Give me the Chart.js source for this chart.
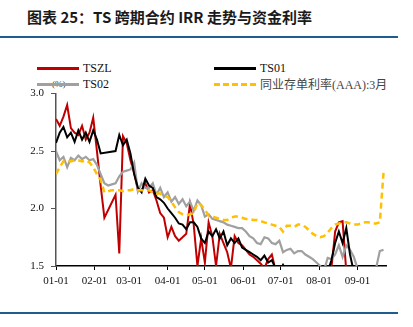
<!DOCTYPE html>
<html>
<head>
<meta charset="utf-8">
<script src="https://cdn.jsdelivr.net/npm/chart.js@4"></script>
<style>
  html, body { margin: 0; padding: 0; background: #fff; }
  body { width: 413px; height: 327px; position: relative; overflow: hidden; }
  #title {
    position: absolute; left: 27px; top: 6px;
    font-family: "Noto Sans CJK SC", sans-serif; font-weight: bold;
    font-size: 15px; color: #1a1a1a; white-space: nowrap;
  }
  .rule { position: absolute; left: 0; width: 398px; height: 2px; background: #1F5C8F; }
  .leg-line { position: absolute; width: 42px; height: 0; }
  .leg-text {
    position: absolute; font-family: "Liberation Serif", "Times New Roman", serif;
    font-size: 12px; color: #111; white-space: nowrap; line-height: 14px;
  }
  #unit {
    position: absolute; left: 52px; top: 79px;
    font-family: "Liberation Serif", serif; font-size: 9px; color: #333;
  }
  #wrap { position: absolute; left: 0; top: 80px; width: 400px; height: 216px; }
</style>
</head>
<body>
<div id="title">图表 25：TS 跨期合约 IRR 走势与资金利率</div>
<div class="rule" style="top:36px"></div>
<div class="rule" style="top:312px"></div>

<div class="leg-line" style="left:37px; top:67px; border-top:3px solid #C00000"></div>
<div class="leg-text" style="left:83px; top:61px">TSZL</div>
<div id="unit">(%)</div>
<div class="leg-line" style="left:37px; top:83px; border-top:3px solid #A0A0A0"></div>
<div class="leg-text" style="left:83px; top:77px">TS02</div>
<div class="leg-line" style="left:214px; top:67px; border-top:3px solid #000"></div>
<div class="leg-text" style="left:260px; top:61px">TS01</div>
<div class="leg-line" style="left:214px; top:83px; border-top:3px dashed #FFC000"></div>
<div class="leg-text" style="left:260px; top:77px; color:#444"><span style="font-family:'Noto Sans CJK SC'">同业存单利率</span>(AAA):3<span style="font-family:'Noto Sans CJK SC'">月</span></div>

<div id="wrap"><canvas id="chart"></canvas></div>

<script>
// day offsets from 01-01, one sample every 3 days
const days = [0, 3, 6, 9, 12, 15, 18, 21, 24, 27, 30, 33, 36, 39, 42, 45, 48, 51, 54, 57,
  60, 63, 66, 69, 72, 75, 78, 81, 84, 87, 90, 93, 96, 99, 102, 105, 108, 111, 114, 117,
  120, 123, 126, 129, 132, 135, 138, 141, 144, 147, 150, 153, 156, 159, 162, 165, 168, 171, 174, 177,
  180, 183, 186, 189, 192, 195, 198, 201, 204, 207, 210, 213, 216, 219, 222, 225, 228, 231, 234, 237,
  240, 243, 246, 249, 252, 255, 258, 261, 264];

const tszl = [2.78, 2.72, 2.80, 2.90, 2.70, 2.66, 2.64, 2.72, 2.60, 2.66,
  2.79, 2.50, 2.20, 1.92, null, null, 2.12, 1.61, 2.63, 2.57,
  2.42, 2.31, 2.16, 2.16, 2.22, 2.14, 2.16, 2.07, 1.96, 1.92,
  1.75, 1.84, 1.76, 1.72, 1.75, 1.78, 2.04, 1.86, 1.50, 1.74,
  1.53, 1.88, 1.76, 1.50, 1.78, 1.70, 1.62, 1.48, 1.76, 1.70,
  1.68, 1.64, 1.60, 1.58, 1.55, 1.52, 1.48, 1.56, 1.60, 1.46,
  1.45, 1.45, 1.45, 1.45, 1.45, 1.45, 1.45, 1.45, 1.45, 1.45,
  1.45, 1.45, 1.45, 1.45, 1.48, 1.80, 1.88, 1.89, 1.45, null,
  null, null, null, null, null, null, null, null, null];

const ts01 = [2.57, 2.66, 2.71, 2.62, 2.66, 2.58, 2.68, 2.60, 2.66, 2.58,
  2.68, 2.60, 2.48, null, null, null, 2.50, 2.64, 2.55, 2.60,
  2.48, 2.30, 2.18, 2.14, 2.26, 2.20, 2.18, 2.10, 2.08, 2.05,
  2.00, 1.96, 1.92, 1.87, 1.86, 1.82, 1.88, 1.88, 1.84, 1.74,
  1.70, 1.80, 1.76, 1.82, 1.74, 1.80, 1.68, 1.74, 1.70, 1.74,
  1.66, 1.64, 1.62, 1.60, 1.58, 1.55, 1.59, 1.53, 1.55, 1.48,
  1.45, 1.51, 1.45, 1.45, 1.45, 1.45, 1.45, 1.45, 1.45, 1.45,
  1.45, 1.45, 1.45, 1.45, 1.55, 1.70, 1.80, 1.70, 1.83, 1.60,
  1.45, 1.45, 1.50, null, null, null, null, null, null];

const ts02 = [2.50, 2.42, 2.45, 2.36, 2.44, 2.42, 2.46, 2.43, 2.45, 2.42,
  2.43, 2.38, 2.30, 2.22, 2.20, 2.21, 2.22, 2.28, 2.32, 2.33,
  2.34, 2.40, 2.15, 2.22, 2.18, 2.18, 2.22, 2.12, 2.18, 2.10,
  2.14, 2.06, 2.10, 2.04, 2.08, 2.02, 2.06, 1.98, 2.07, 2.03,
  1.93, 1.95, 1.91, 1.90, 1.89, 1.88, 1.86, 1.85, 1.84, 1.83,
  1.83, 1.80, 1.76, 1.74, 1.70, 1.69, 1.75, 1.74, 1.70, 1.69,
  1.72, 1.62, 1.64, 1.65, 1.61, 1.63, 1.63, 1.60, 1.58, 1.56,
  1.53, 1.50, 1.46, 1.57, 1.56, 1.60, 1.68, 1.58, 1.68, 1.64,
  1.58, 1.48, 1.45, 1.45, 1.45, 1.45, 1.48, 1.63, 1.64];

const ncdRate = [2.30, 2.36, 2.41, 2.42, 2.41, 2.42, 2.42, 2.41, 2.42, 2.40,
  2.36, 2.30, 2.25, 2.14, 2.15, 2.16, 2.16, 2.16, 2.15, 2.16,
  2.16, 2.17, 2.16, 2.16, 2.15, 2.16, 2.14, 2.13, 2.13, 2.11,
  2.10, 2.06, 2.01, 1.97, 1.95, 1.94, 1.95, 1.96, 2.05, 2.03,
  1.99, 1.94, 1.93, 1.92, 1.91, 1.90, 1.90, 1.92, 1.93, 1.93,
  1.92, 1.91, 1.91, 1.90, 1.90, 1.89, 1.88, 1.87, 1.86, 1.85,
  1.84, 1.80, 1.85, 1.85, 1.84, 1.86, 1.86, 1.84, 1.81, 1.78,
  1.76, 1.75, 1.76, 1.79, 1.83, 1.86, 1.87, 1.88, 1.88, 1.87,
  1.86, 1.86, 1.87, 1.88, 1.88, 1.87, 1.87, 1.88, 2.31];

const monthDays = [0, 31, 59, 90, 120, 151, 181, 212, 243];
const monthLabels = ["01-01", "02-01", "03-01", "04-01", "05-01", "06-01", "07-01", "08-01", "09-01"];
const yTicks = [1.5, 2.0, 2.5, 3.0];

const toPoints = (vals) => vals.map((v, i) => ({ x: days[i], y: v }));

function lineSet(label, vals, color, extra = {}) {
  return Object.assign({
    label,
    data: toPoints(vals),
    borderColor: color,
    backgroundColor: color,
    borderWidth: 2,
    pointRadius: 0,
    tension: 0,
    spanGaps: true,
    clip: 0
  }, extra);
}

const serif = "'Liberation Serif', 'Times New Roman', serif";

new Chart(document.getElementById("chart"), {
  type: "line",
  data: {
    datasets: [
      lineSet("同业存单利率(AAA):3月", ncdRate, "#FFC000", { borderDash: [6, 4], borderWidth: 2.5 }),
      lineSet("TS01", ts01, "#000000"),
      lineSet("TS02", ts02, "#A0A0A0", { borderWidth: 2.2 }),
      lineSet("TSZL", tszl, "#C00000")
    ]
  },
  options: {
    responsive: true,
    maintainAspectRatio: false,
    animation: false,
    layout: { padding: { left: 0, right: 14, top: 13, bottom: 0 } },
    plugins: { legend: { display: false }, tooltip: { enabled: false } },
    scales: {
      x: {
        type: "linear",
        min: 0,
        max: 266,
        afterBuildTicks: (scale) => { scale.ticks = monthDays.map((v) => ({ value: v })); },
        afterFit: (scale) => { scale.height = 30; },
        border: { color: "#000", width: 1.5 },
        grid: { drawOnChartArea: false, drawTicks: true, tickLength: 4, color: "#000" },
        ticks: {
          autoSkip: false,
          maxRotation: 0,
          padding: 5,
          color: "#111",
          font: { family: serif, size: 11 },
          callback: (v) => monthLabels[monthDays.indexOf(v)]
        }
      },
      y: {
        min: 1.5,
        max: 3.0,
        afterBuildTicks: (scale) => { scale.ticks = yTicks.map((v) => ({ value: v })); },
        afterFit: (scale) => { scale.width = 56; },
        border: { color: "#555", width: 1.5 },
        grid: { drawOnChartArea: false, drawTicks: true, tickLength: 5, color: "#555" },
        ticks: {
          padding: 7,
          color: "#111",
          font: { family: serif, size: 11 },
          callback: (v) => v.toFixed(1)
        }
      }
    }
  }
});
</script>
</body>
</html>
